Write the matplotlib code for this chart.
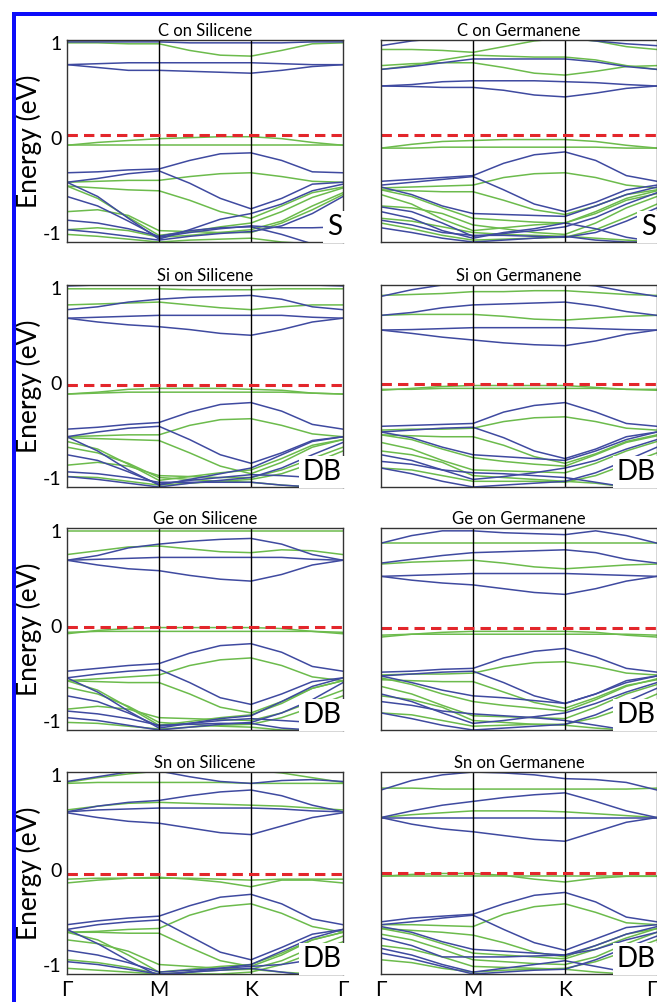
import numpy as np
import matplotlib.pyplot as plt
from matplotlib.patches import Rectangle

plt.rcParams['font.family'] = ['Lato', 'DejaVu Sans']

# path through the Brillouin zone, 3 samples per segment
kpath_labels = ['Γ', 'M', 'K', 'Γ']
n_k = 10

titles = ['C on Silicene', 'C on Germanene', 'Si on Silicene', 'Si on Germanene',
          'Ge on Silicene', 'Ge on Germanene', 'Sn on Silicene', 'Sn on Germanene']
site_labels = ['S', 'S', 'DB', 'DB', 'DB', 'DB', 'DB', 'DB']
fermi = [0.03, 0.03, -0.025, -0.018, -0.014, -0.02, -0.045, -0.03]

# ---- bands (eV) read at G, .., M, .., K, .., G ----
c_sil_blue = [
    [1.01, 1.01, 1.01, 1.01, 1.00, 1.00, 1.00, 1.00, 1.01, 1.01],
    [0.77, 0.78, 0.79, 0.79, 0.79, 0.79, 0.79, 0.78, 0.77, 0.77],
    [0.77, 0.74, 0.71, 0.71, 0.70, 0.69, 0.68, 0.71, 0.75, 0.77],
    [-0.37, -0.36, -0.34, -0.33, -0.24, -0.17, -0.16, -0.24, -0.36, -0.37],
    [-0.47, -0.43, -0.38, -0.35, -0.48, -0.64, -0.75, -0.64, -0.49, -0.47],
    [-0.47, -0.62, -0.85, -1.07, -0.97, -0.86, -0.80, -0.70, -0.56, -0.49],
    [-0.62, -0.72, -0.88, -1.05, -1.00, -0.96, -0.93, -0.95, -0.95, -0.94],
    [-0.87, -0.90, -0.96, -1.04, -0.98, -0.95, -0.94, -1.02, -1.12, -1.12],
    [-0.97, -1.00, -1.04, -1.08, -1.04, -1.01, -0.99, -0.93, -0.80, -0.62],
]
c_sil_green = [
    [1.00, 1.00, 0.99, 0.99, 0.92, 0.87, 0.86, 0.92, 0.99, 1.00],
    [-0.08, -0.05, -0.03, -0.01, 0.00, 0.01, 0.01, -0.01, -0.05, -0.08],
    [-0.08, -0.08, -0.08, -0.08, -0.08, -0.08, -0.08, -0.08, -0.08, -0.08],
    [-0.47, -0.46, -0.45, -0.45, -0.41, -0.38, -0.37, -0.41, -0.46, -0.47],
    [-0.51, -0.53, -0.55, -0.56, -0.66, -0.78, -0.85, -0.72, -0.58, -0.52],
    [-0.51, -0.64, -0.84, -1.03, -0.99, -0.94, -0.90, -0.78, -0.63, -0.53],
    [-0.78, -0.76, -0.82, -0.98, -0.99, -1.00, -1.00, -0.90, -0.76, -0.60],
    [-0.97, -0.95, -0.98, -1.05, -1.03, -1.00, -0.97, -0.88, -0.72, -0.58],
    [-1.02, -1.04, -1.07, -1.10, -1.08, -1.07, -1.06, -1.10, -1.12, -1.12],
]

c_ger_blue = [
    [0.97, 1.02, 1.05, 1.06, 1.06, 1.06, 1.05, 1.02, 0.99, 0.97],
    [0.72, 0.75, 0.79, 0.83, 0.83, 0.83, 0.83, 0.80, 0.75, 0.72],
    [0.545, 0.56, 0.59, 0.60, 0.60, 0.60, 0.59, 0.58, 0.56, 0.545],
    [0.545, 0.54, 0.53, 0.53, 0.50, 0.45, 0.43, 0.47, 0.52, 0.545],
    [-0.46, -0.44, -0.42, -0.40, -0.27, -0.18, -0.15, -0.24, -0.40, -0.46],
    [-0.50, -0.47, -0.44, -0.41, -0.55, -0.70, -0.78, -0.68, -0.55, -0.50],
    [-0.52, -0.60, -0.72, -0.80, -0.81, -0.82, -0.83, -0.72, -0.60, -0.52],
    [-0.73, -0.78, -0.90, -1.04, -1.01, -0.98, -0.94, -0.84, -0.70, -0.58],
    [-0.78, -0.85, -0.98, -1.06, -1.00, -0.96, -0.90, -0.96, -1.05, -1.10],
    [-0.87, -0.92, -1.00, -1.03, -1.03, -1.04, -1.05, -1.00, -0.88, -0.74],
    [-0.95, -1.00, -1.06, -1.10, -1.08, -1.06, -1.04, -1.08, -1.10, -1.10],
]
c_ger_green = [
    [0.93, 0.93, 0.92, 0.90, 0.96, 1.02, 1.05, 1.02, 0.96, 0.93],
    [0.76, 0.78, 0.79, 0.79, 0.74, 0.68, 0.66, 0.70, 0.75, 0.76],
    [0.72, 0.76, 0.82, 0.87, 0.86, 0.85, 0.85, 0.82, 0.76, 0.72],
    [-0.11, -0.07, -0.04, -0.03, -0.02, -0.02, -0.02, -0.04, -0.08, -0.11],
    [-0.11, -0.11, -0.10, -0.10, -0.10, -0.10, -0.10, -0.10, -0.11, -0.11],
    [-0.53, -0.52, -0.51, -0.50, -0.42, -0.38, -0.37, -0.42, -0.50, -0.53],
    [-0.55, -0.56, -0.57, -0.57, -0.66, -0.76, -0.81, -0.72, -0.60, -0.55],
    [-0.55, -0.62, -0.74, -0.85, -0.87, -0.89, -0.90, -0.78, -0.64, -0.56],
    [-0.60, -0.70, -0.86, -0.98, -0.95, -0.92, -0.90, -0.80, -0.66, -0.59],
    [-0.72, -0.74, -0.80, -0.92, -0.96, -1.00, -1.02, -0.90, -0.74, -0.62],
    [-0.85, -0.88, -0.94, -1.00, -1.02, -1.03, -1.04, -1.06, -1.08, -1.10],
    [-0.90, -0.96, -1.03, -1.08, -1.07, -1.06, -1.05, -0.97, -0.84, -0.70],
]

si_sil_blue = [
    [1.02, 1.03, 1.04, 1.04, 1.04, 1.04, 1.04, 1.04, 1.03, 1.02],
    [0.77, 0.80, 0.85, 0.88, 0.90, 0.91, 0.92, 0.88, 0.80, 0.77],
    [0.68, 0.69, 0.70, 0.71, 0.71, 0.71, 0.71, 0.71, 0.69, 0.68],
    [0.68, 0.64, 0.61, 0.59, 0.56, 0.52, 0.50, 0.56, 0.64, 0.68],
    [-0.49, -0.47, -0.44, -0.42, -0.31, -0.23, -0.21, -0.30, -0.44, -0.49],
    [-0.57, -0.52, -0.48, -0.46, -0.60, -0.76, -0.85, -0.74, -0.61, -0.57],
    [-0.57, -0.72, -0.92, -1.08, -1.02, -0.96, -0.90, -0.76, -0.62, -0.57],
    [-0.76, -0.82, -0.94, -1.07, -1.03, -1.00, -0.97, -0.98, -1.00, -1.00],
    [-0.94, -0.96, -1.00, -1.05, -1.05, -1.05, -1.05, -1.08, -1.10, -1.10],
    [-0.99, -1.02, -1.06, -1.10, -1.06, -1.03, -1.00, -0.90, -0.76, -0.63],
]
si_sil_green = [
    [0.99, 0.99, 0.99, 0.99, 0.98, 0.98, 0.98, 0.99, 0.99, 0.99],
    [0.82, 0.83, 0.84, 0.85, 0.82, 0.79, 0.77, 0.80, 0.82, 0.82],
    [-0.12, -0.10, -0.07, -0.06, -0.06, -0.06, -0.07, -0.08, -0.11, -0.12],
    [-0.12, -0.11, -0.10, -0.10, -0.10, -0.10, -0.10, -0.10, -0.11, -0.12],
    [-0.57, -0.56, -0.55, -0.55, -0.45, -0.39, -0.38, -0.45, -0.54, -0.57],
    [-0.58, -0.59, -0.60, -0.61, -0.74, -0.88, -0.96, -0.84, -0.68, -0.60],
    [-0.62, -0.70, -0.86, -1.03, -0.99, -0.95, -0.92, -0.80, -0.66, -0.60],
    [-0.87, -0.84, -0.88, -0.98, -0.99, -1.00, -1.00, -0.92, -0.80, -0.68],
    [-0.68, -0.74, -0.85, -1.00, -1.02, -1.04, -1.05, -1.08, -1.10, -1.10],
    [-0.99, -1.00, -1.04, -1.08, -1.06, -1.04, -1.02, -0.96, -0.85, -0.72],
]

si_ger_blue = [
    [0.91, 0.98, 1.03, 1.05, 1.05, 1.05, 1.05, 1.02, 0.96, 0.91],
    [0.71, 0.74, 0.79, 0.82, 0.83, 0.84, 0.85, 0.81, 0.75, 0.71],
    [0.555, 0.56, 0.57, 0.58, 0.58, 0.58, 0.58, 0.57, 0.56, 0.555],
    [0.555, 0.52, 0.48, 0.45, 0.42, 0.40, 0.39, 0.44, 0.51, 0.555],
    [-0.46, -0.45, -0.44, -0.43, -0.31, -0.24, -0.21, -0.31, -0.43, -0.46],
    [-0.52, -0.50, -0.48, -0.47, -0.58, -0.72, -0.80, -0.70, -0.57, -0.52],
    [-0.52, -0.58, -0.68, -0.76, -0.78, -0.80, -0.82, -0.72, -0.60, -0.52],
    [-0.76, -0.82, -0.92, -1.02, -0.99, -0.95, -0.90, -0.82, -0.70, -0.60],
    [-0.83, -0.86, -0.92, -0.95, -0.96, -0.98, -1.00, -1.05, -1.10, -1.10],
    [-0.90, -0.96, -1.04, -1.10, -1.08, -1.06, -1.04, -0.95, -0.82, -0.68],
]
si_ger_green = [
    [0.92, 0.93, 0.94, 0.96, 0.96, 0.97, 0.97, 0.95, 0.93, 0.92],
    [0.71, 0.72, 0.72, 0.72, 0.70, 0.67, 0.66, 0.68, 0.70, 0.71],
    [-0.08, -0.06, -0.04, -0.03, -0.03, -0.03, -0.03, -0.05, -0.07, -0.08],
    [-0.07, -0.07, -0.06, -0.06, -0.06, -0.06, -0.06, -0.06, -0.07, -0.07],
    [-0.50, -0.49, -0.49, -0.48, -0.41, -0.37, -0.36, -0.41, -0.48, -0.50],
    [-0.55, -0.56, -0.57, -0.57, -0.66, -0.78, -0.85, -0.75, -0.62, -0.55],
    [-0.55, -0.60, -0.70, -0.79, -0.83, -0.86, -0.88, -0.76, -0.63, -0.56],
    [-0.63, -0.70, -0.82, -0.92, -0.93, -0.94, -0.95, -0.85, -0.72, -0.62],
    [-0.72, -0.76, -0.84, -0.98, -1.00, -1.02, -1.04, -1.06, -1.10, -1.10],
    [-0.90, -0.92, -0.98, -1.04, -1.04, -1.04, -1.05, -0.98, -0.86, -0.74],
]

ge_sil_blue = [
    [0.69, 0.74, 0.82, 0.86, 0.89, 0.91, 0.92, 0.86, 0.75, 0.69],
    [0.69, 0.70, 0.71, 0.72, 0.72, 0.72, 0.72, 0.72, 0.70, 0.69],
    [0.69, 0.64, 0.60, 0.58, 0.53, 0.49, 0.47, 0.54, 0.64, 0.69],
    [-0.48, -0.45, -0.42, -0.40, -0.29, -0.21, -0.19, -0.28, -0.43, -0.48],
    [-0.55, -0.51, -0.48, -0.46, -0.60, -0.76, -0.83, -0.72, -0.59, -0.55],
    [-0.55, -0.70, -0.90, -1.08, -1.03, -0.98, -0.95, -0.80, -0.64, -0.55],
    [-0.74, -0.80, -0.92, -1.06, -1.03, -1.00, -0.98, -1.00, -1.02, -1.02],
    [-0.90, -0.93, -0.98, -1.05, -1.04, -1.03, -1.03, -1.08, -1.10, -1.10],
    [-0.97, -1.00, -1.05, -1.10, -1.07, -1.04, -1.02, -0.92, -0.78, -0.60],
]
ge_sil_green = [
    [1.00, 1.00, 1.00, 1.00, 1.00, 1.00, 1.00, 1.00, 1.00, 1.00],
    [0.75, 0.79, 0.83, 0.84, 0.81, 0.78, 0.77, 0.80, 0.79, 0.75],
    [-0.085, -0.05, -0.03, -0.02, -0.02, -0.02, -0.02, -0.03, -0.06, -0.085],
    [-0.07, -0.06, -0.06, -0.06, -0.06, -0.06, -0.06, -0.06, -0.06, -0.07],
    [-0.58, -0.56, -0.54, -0.52, -0.42, -0.36, -0.34, -0.42, -0.54, -0.58],
    [-0.58, -0.59, -0.60, -0.60, -0.72, -0.86, -0.92, -0.80, -0.66, -0.58],
    [-0.58, -0.68, -0.86, -1.05, -1.01, -0.97, -0.94, -0.82, -0.66, -0.58],
    [-0.88, -0.85, -0.88, -0.97, -0.98, -0.99, -1.00, -0.92, -0.80, -0.68],
    [-0.65, -0.72, -0.85, -1.02, -1.04, -1.06, -1.07, -1.10, -1.10, -1.10],
    [-1.02, -1.03, -1.06, -1.09, -1.07, -1.05, -1.04, -0.97, -0.86, -0.74],
]

ge_ger_blue = [
    [0.87, 0.95, 1.00, 1.00, 0.98, 0.97, 0.96, 1.00, 0.95, 0.87],
    [0.66, 0.70, 0.74, 0.77, 0.78, 0.79, 0.80, 0.77, 0.70, 0.66],
    [0.52, 0.53, 0.54, 0.55, 0.55, 0.55, 0.55, 0.54, 0.53, 0.52],
    [0.52, 0.48, 0.45, 0.43, 0.39, 0.35, 0.33, 0.39, 0.47, 0.52],
    [-0.49, -0.48, -0.46, -0.45, -0.34, -0.27, -0.24, -0.33, -0.45, -0.49],
    [-0.53, -0.51, -0.49, -0.48, -0.60, -0.74, -0.82, -0.72, -0.58, -0.53],
    [-0.53, -0.60, -0.68, -0.74, -0.76, -0.79, -0.82, -0.72, -0.60, -0.53],
    [-0.72, -0.80, -0.92, -1.03, -1.00, -0.96, -0.92, -0.82, -0.70, -0.60],
    [-0.80, -0.84, -0.90, -0.93, -0.95, -0.97, -1.00, -1.05, -1.10, -1.10],
    [-0.92, -0.98, -1.05, -1.10, -1.08, -1.06, -1.04, -0.94, -0.80, -0.66],
]
ge_ger_green = [
    [0.87, 0.87, 0.87, 0.87, 0.87, 0.87, 0.87, 0.87, 0.87, 0.87],
    [0.65, 0.67, 0.68, 0.69, 0.66, 0.62, 0.60, 0.62, 0.64, 0.65],
    [-0.12, -0.09, -0.07, -0.06, -0.06, -0.06, -0.06, -0.07, -0.10, -0.12],
    [-0.10, -0.09, -0.09, -0.09, -0.09, -0.09, -0.09, -0.09, -0.09, -0.10],
    [-0.52, -0.51, -0.51, -0.50, -0.43, -0.39, -0.38, -0.43, -0.50, -0.52],
    [-0.57, -0.58, -0.59, -0.59, -0.70, -0.81, -0.87, -0.76, -0.63, -0.57],
    [-0.55, -0.62, -0.72, -0.80, -0.84, -0.87, -0.90, -0.78, -0.64, -0.56],
    [-0.64, -0.72, -0.84, -0.95, -0.96, -0.97, -0.98, -0.86, -0.72, -0.62],
    [-0.74, -0.78, -0.86, -1.00, -1.02, -1.04, -1.05, -1.08, -1.10, -1.10],
    [-0.92, -0.94, -1.00, -1.06, -1.05, -1.04, -1.04, -0.97, -0.86, -0.72],
]

sn_sil_blue = [
    [0.93, 0.98, 1.03, 1.04, 0.98, 0.93, 0.91, 0.94, 0.95, 0.93],
    [0.61, 0.67, 0.71, 0.73, 0.78, 0.82, 0.84, 0.78, 0.68, 0.61],
    [0.61, 0.63, 0.64, 0.65, 0.65, 0.65, 0.65, 0.64, 0.62, 0.61],
    [0.60, 0.55, 0.51, 0.49, 0.44, 0.39, 0.37, 0.46, 0.55, 0.60],
    [-0.58, -0.54, -0.51, -0.49, -0.38, -0.29, -0.26, -0.36, -0.52, -0.58],
    [-0.63, -0.58, -0.55, -0.53, -0.70, -0.87, -0.95, -0.82, -0.68, -0.63],
    [-0.63, -0.78, -0.96, -1.12, -1.08, -1.04, -1.00, -0.86, -0.72, -0.63],
    [-0.85, -0.90, -0.98, -1.08, -1.06, -1.04, -1.02, -1.00, -0.95, -0.90],
    [-0.97, -1.00, -1.05, -1.10, -1.08, -1.06, -1.04, -1.08, -1.12, -1.12],
]
sn_sil_green = [
    [0.91, 0.92, 0.92, 0.92, 0.92, 0.92, 0.91, 0.91, 0.91, 0.91],
    [0.92, 0.97, 1.01, 1.04, 1.05, 1.05, 1.05, 1.02, 0.97, 0.92],
    [0.63, 0.67, 0.70, 0.71, 0.70, 0.69, 0.68, 0.67, 0.65, 0.63],
    [-0.14, -0.11, -0.09, -0.08, -0.10, -0.13, -0.18, -0.11, -0.11, -0.14],
    [-0.10, -0.09, -0.09, -0.09, -0.09, -0.10, -0.11, -0.10, -0.10, -0.10],
    [-0.66, -0.65, -0.63, -0.62, -0.48, -0.39, -0.36, -0.46, -0.60, -0.66],
    [-0.66, -0.66, -0.67, -0.67, -0.82, -0.96, -1.02, -0.90, -0.74, -0.66],
    [-0.66, -0.74, -0.90, -1.08, -1.05, -1.02, -1.00, -0.88, -0.74, -0.66],
    [-0.74, -0.78, -0.86, -1.00, -1.02, -1.04, -1.05, -0.96, -0.82, -0.70],
    [-0.95, -0.98, -1.03, -1.10, -1.08, -1.06, -1.05, -1.08, -1.10, -1.10],
    [-1.04, -1.06, -1.08, -1.10, -1.10, -1.10, -1.08, -1.00, -0.88, -0.76],
]

sn_ger_blue = [
    [0.84, 0.94, 1.00, 1.03, 1.02, 1.00, 0.96, 0.95, 0.92, 0.84],
    [0.55, 0.62, 0.68, 0.72, 0.76, 0.79, 0.81, 0.72, 0.62, 0.55],
    [0.55, 0.55, 0.55, 0.55, 0.55, 0.55, 0.55, 0.55, 0.55, 0.55],
    [0.55, 0.48, 0.43, 0.40, 0.36, 0.32, 0.30, 0.40, 0.50, 0.55],
    [-0.55, -0.51, -0.49, -0.47, -0.36, -0.27, -0.24, -0.34, -0.50, -0.55],
    [-0.58, -0.55, -0.51, -0.48, -0.63, -0.77, -0.85, -0.73, -0.61, -0.58],
    [-0.60, -0.66, -0.76, -0.84, -0.86, -0.88, -0.90, -0.80, -0.68, -0.60],
    [-0.72, -0.80, -0.92, -0.92, -0.92, -0.91, -0.90, -0.84, -0.74, -0.66],
    [-0.83, -0.90, -1.00, -1.08, -1.04, -1.00, -0.96, -1.02, -1.08, -1.10],
    [-0.88, -0.94, -1.02, -1.10, -1.08, -1.06, -1.05, -0.95, -0.82, -0.70],
]
sn_ger_green = [
    [0.86, 0.86, 0.85, 0.85, 0.85, 0.85, 0.85, 0.85, 0.85, 0.86],
    [0.55, 0.58, 0.60, 0.62, 0.62, 0.62, 0.61, 0.59, 0.57, 0.55],
    [-0.07, -0.05, -0.04, -0.04, -0.06, -0.10, -0.13, -0.09, -0.07, -0.07],
    [-0.07, -0.07, -0.07, -0.07, -0.07, -0.07, -0.07, -0.07, -0.07, -0.07],
    [-0.58, -0.58, -0.59, -0.60, -0.47, -0.39, -0.36, -0.45, -0.56, -0.58],
    [-0.62, -0.64, -0.66, -0.69, -0.77, -0.87, -0.92, -0.80, -0.68, -0.62],
    [-0.62, -0.68, -0.78, -0.88, -0.90, -0.92, -0.94, -0.84, -0.72, -0.62],
    [-0.68, -0.74, -0.84, -0.95, -0.97, -0.99, -1.00, -0.92, -0.78, -0.66],
    [-0.80, -0.84, -0.92, -1.02, -1.03, -1.04, -1.05, -1.08, -1.10, -1.10],
    [-0.95, -0.98, -1.04, -1.08, -1.06, -1.05, -1.04, -0.97, -0.86, -0.74],
]

blue_sets = [c_sil_blue, c_ger_blue, si_sil_blue, si_ger_blue,
             ge_sil_blue, ge_ger_blue, sn_sil_blue, sn_ger_blue]
green_sets = [c_sil_green, c_ger_green, si_sil_green, si_ger_green,
              ge_sil_green, ge_ger_green, sn_sil_green, sn_ger_green]

BLUE = '#3f4aa0'
GREEN = '#6cbb4c'
RED = '#e3262b'

W, H = 657, 1002
col_x = [67, 381]            # panel left edges in px
row_top = [40, 285, 528, 772]
pw, ph = 276, 202

fig = plt.figure(figsize=(W / 100, H / 100), dpi=100)

# blue frame (top and left only, rest is cut off in the original)
fig.add_artist(Rectangle((12 / W, 1 - 16 / H), 1, 4 / H, transform=fig.transFigure,
                         color='#0d0dfa', lw=0))
fig.add_artist(Rectangle((12 / W, 0), 4 / W, 1 - 12 / H, transform=fig.transFigure,
                         color='#0d0dfa', lw=0))

k = np.linspace(0, 3, n_k)

for i in range(8):
    r, c = divmod(i, 2)
    ax = fig.add_axes([col_x[c] / W, 1 - (row_top[r] + ph) / H, pw / W, ph / H])

    for band in green_sets[i]:
        ax.plot(k, band, color=GREEN, lw=1.1)
    for band in blue_sets[i]:
        ax.plot(k, band, color=BLUE, lw=1.1)

    for xv in (1, 2):
        ax.axvline(xv, color='black', lw=1.0)
    ax.axhline(fermi[i], color=RED, lw=2.2, ls=(0, (3.4, 2.0)))

    ax.set_xlim(0, 3)
    ax.set_ylim(-1.1, 1.03)
    for sp in ax.spines.values():
        sp.set_color('#333333')
        sp.set_linewidth(1.0)

    ax.set_title(titles[i], fontsize=12, pad=3)
    ax.tick_params(length=0)

    if c == 0:
        ax.set_yticks([-1, 0, 1])
        ax.set_yticklabels(['-1', '0', '1'], fontsize=14)
        ax.tick_params(axis='y', pad=4)
        ax.set_ylabel('Energy (eV)', fontsize=19)
        ax.yaxis.set_label_coords(-0.09, 0.5)
    else:
        ax.set_yticks([])

    if r == 3:
        ax.set_xticks([0, 1, 2, 3])
        ax.set_xticklabels(kpath_labels, fontsize=15)
        ax.tick_params(axis='x', pad=4)
        if c == 1:
            # last label sits at the figure edge
            ax.get_xticklabels()[-1].set_horizontalalignment('right')
    else:
        ax.set_xticks([])

    ax.text(0.995, 0.01, site_labels[i], transform=ax.transAxes, ha='right', va='bottom',
            fontsize=20, zorder=10,
            bbox=dict(facecolor='white', edgecolor='none', pad=2.5))

fig.savefig('out.png', dpi=100, facecolor='white')
